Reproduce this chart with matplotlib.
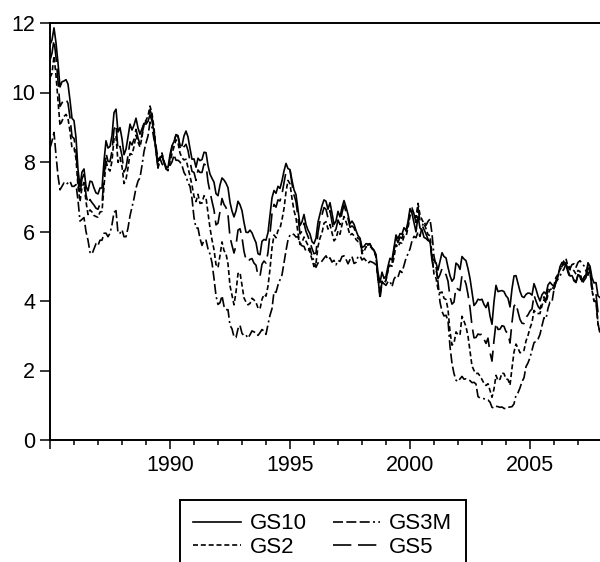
import matplotlib
matplotlib.use('Agg')
import matplotlib.pyplot as plt
import numpy as np

plt.rcParams['font.family'] = ['Liberation Sans', 'DejaVu Sans']

# monthly yields, 1985:01 - 2007:12 (percent)
start_year = 1985

gs10 = [11.38, 11.51, 11.86, 11.43, 10.85, 10.16, 10.31, 10.33, 10.37, 10.24, 9.78, 9.26,
        9.19, 8.70, 7.78, 7.30, 7.71, 7.80, 7.30, 7.17, 7.45, 7.43, 7.25, 7.11,
        7.08, 7.25, 7.25, 8.02, 8.61, 8.40, 8.45, 8.76, 9.42, 9.52, 8.86, 8.99,
        8.67, 8.21, 8.37, 8.72, 9.09, 8.92, 9.06, 9.26, 8.98, 8.80, 8.96, 9.11,
        9.09, 9.17, 9.36, 9.18, 8.86, 8.28, 8.02, 8.11, 8.19, 8.01, 7.87, 7.84,
        8.21, 8.47, 8.59, 8.79, 8.76, 8.48, 8.47, 8.75, 8.89, 8.72, 8.39, 8.08,
        8.09, 7.85, 8.11, 8.04, 8.07, 8.28, 8.27, 7.90, 7.65, 7.53, 7.42, 7.09,
        7.03, 7.34, 7.54, 7.48, 7.39, 7.26, 6.84, 6.59, 6.42, 6.59, 6.87, 6.77,
        6.60, 6.26, 5.98, 5.97, 6.04, 5.96, 5.81, 5.68, 5.36, 5.33, 5.72, 5.77,
        5.75, 5.97, 6.48, 6.97, 7.18, 7.10, 7.30, 7.24, 7.46, 7.74, 7.96, 7.81,
        7.78, 7.47, 7.20, 7.06, 6.63, 6.17, 6.28, 6.49, 6.20, 6.04, 5.93, 5.71,
        5.65, 5.81, 6.27, 6.51, 6.74, 6.91, 6.87, 6.64, 6.83, 6.53, 6.20, 6.30,
        6.58, 6.42, 6.69, 6.89, 6.71, 6.49, 6.22, 6.30, 6.21, 6.03, 5.88, 5.81,
        5.54, 5.57, 5.65, 5.64, 5.65, 5.50, 5.46, 5.34, 4.81, 4.53, 4.83, 4.65,
        4.72, 5.00, 5.23, 5.18, 5.54, 5.90, 5.79, 5.94, 5.92, 6.11, 6.03, 6.28,
        6.66, 6.52, 6.26, 5.99, 6.44, 6.10, 6.05, 5.83, 5.80, 5.74, 5.72, 5.24,
        5.16, 5.10, 4.89, 5.14, 5.39, 5.28, 5.24, 4.97, 4.73, 4.57, 4.65, 5.09,
        5.04, 4.91, 5.28, 5.21, 5.16, 4.93, 4.65, 4.26, 3.87, 3.94, 4.05, 4.03,
        4.05, 3.90, 3.81, 3.96, 3.57, 3.33, 3.98, 4.45, 4.27, 4.29, 4.30, 4.27,
        4.15, 4.08, 3.83, 4.35, 4.72, 4.73, 4.50, 4.28, 4.13, 4.10, 4.19, 4.23,
        4.22, 4.17, 4.50, 4.34, 4.14, 4.00, 4.18, 4.26, 4.20, 4.46, 4.54, 4.47,
        4.42, 4.57, 4.72, 4.99, 5.11, 5.11, 5.09, 4.88, 4.72, 4.73, 4.60, 4.56,
        4.76, 4.72, 4.56, 4.69, 4.75, 5.10, 5.00, 4.67, 4.52, 4.53, 4.15, 4.10]

gs5 = [10.93, 11.13, 11.52, 11.01, 10.34, 9.60, 9.70, 9.81, 9.81, 9.69, 9.28, 8.73,
       8.68, 8.34, 7.46, 7.05, 7.52, 7.64, 7.06, 6.80, 6.92, 6.83, 6.76, 6.67,
       6.64, 6.79, 6.79, 7.57, 8.26, 8.02, 8.01, 8.32, 8.94, 9.08, 8.35, 8.45,
       8.18, 7.71, 7.83, 8.19, 8.58, 8.49, 8.66, 8.94, 8.69, 8.51, 8.79, 9.09,
       9.15, 9.27, 9.51, 9.30, 8.91, 8.29, 7.83, 8.09, 8.17, 7.97, 7.81, 7.75,
       8.12, 8.42, 8.60, 8.77, 8.74, 8.43, 8.33, 8.44, 8.51, 8.33, 8.02, 7.73,
       7.70, 7.47, 7.77, 7.70, 7.70, 7.94, 7.91, 7.43, 7.14, 6.87, 6.62, 6.19,
       6.24, 6.58, 6.95, 6.78, 6.69, 6.48, 5.84, 5.60, 5.38, 5.60, 6.04, 6.08,
       5.83, 5.43, 5.19, 5.13, 5.20, 5.22, 5.09, 5.03, 4.73, 4.71, 5.06, 5.15,
       5.09, 5.40, 5.94, 6.52, 6.78, 6.70, 6.91, 6.88, 7.08, 7.40, 7.72, 7.78,
       7.76, 7.37, 7.05, 6.86, 6.41, 5.93, 6.01, 6.24, 6.00, 5.86, 5.69, 5.51,
       5.36, 5.38, 5.97, 6.30, 6.48, 6.69, 6.64, 6.39, 6.60, 6.27, 5.97, 6.07,
       6.33, 6.20, 6.54, 6.76, 6.57, 6.38, 6.12, 6.16, 6.11, 5.93, 5.80, 5.77,
       5.42, 5.49, 5.61, 5.61, 5.63, 5.52, 5.46, 5.27, 4.62, 4.18, 4.54, 4.45,
       4.60, 4.91, 5.14, 5.08, 5.44, 5.81, 5.68, 5.84, 5.80, 6.03, 5.97, 6.19,
       6.58, 6.68, 6.50, 6.26, 6.69, 6.30, 6.18, 6.06, 5.93, 5.78, 5.70, 5.17,
       4.86, 4.89, 4.64, 4.76, 4.93, 4.81, 4.76, 4.57, 4.12, 3.91, 3.97, 4.39,
       4.34, 4.30, 4.74, 4.65, 4.49, 4.19, 3.81, 3.29, 2.94, 2.95, 3.05, 3.03,
       3.05, 2.90, 2.78, 2.93, 2.52, 2.27, 2.87, 3.37, 3.18, 3.19, 3.29, 3.27,
       3.12, 3.07, 2.79, 3.39, 3.85, 3.93, 3.69, 3.47, 3.36, 3.35, 3.53, 3.60,
       3.71, 3.77, 4.17, 4.00, 3.85, 3.77, 3.98, 4.12, 4.01, 4.33, 4.45, 4.39,
       4.35, 4.57, 4.72, 4.90, 5.00, 5.07, 5.04, 4.82, 4.67, 4.69, 4.58, 4.53,
       4.75, 4.71, 4.48, 4.59, 4.67, 5.03, 4.88, 4.43, 4.20, 4.20, 3.67, 3.49]

gs2 = [10.43, 10.55, 11.05, 10.49, 9.75, 9.05, 9.18, 9.31, 9.37, 9.25, 8.88, 8.40,
       8.41, 8.10, 7.30, 6.86, 7.27, 7.41, 6.86, 6.49, 6.62, 6.56, 6.46, 6.43,
       6.41, 6.56, 6.58, 7.32, 8.02, 7.82, 7.74, 8.03, 8.67, 8.75, 7.99, 8.13,
       7.87, 7.38, 7.50, 7.83, 8.24, 8.22, 8.44, 8.77, 8.57, 8.43, 8.72, 9.11,
       9.20, 9.32, 9.61, 9.40, 8.98, 8.37, 7.83, 8.13, 8.26, 8.02, 7.80, 7.77,
       8.00, 8.24, 8.44, 8.64, 8.55, 8.26, 8.12, 8.06, 8.08, 7.84, 7.59, 7.33,
       7.01, 6.86, 7.07, 6.81, 6.82, 7.03, 6.97, 6.54, 6.10, 5.76, 5.48, 5.05,
       4.96, 5.31, 5.70, 5.45, 5.36, 5.07, 4.44, 4.16, 3.89, 4.26, 4.79, 4.82,
       4.45, 4.09, 3.97, 3.89, 3.93, 4.08, 4.03, 3.96, 3.80, 3.77, 4.05, 4.19,
       4.14, 4.43, 4.92, 5.53, 5.90, 5.82, 6.03, 6.09, 6.34, 6.66, 7.14, 7.47,
       7.37, 6.95, 6.60, 6.39, 5.95, 5.63, 5.69, 5.84, 5.72, 5.60, 5.39, 5.20,
       4.99, 5.09, 5.57, 5.81, 5.96, 6.24, 6.28, 6.07, 6.20, 5.96, 5.73, 5.80,
       6.01, 5.92, 6.20, 6.43, 6.28, 6.10, 5.89, 5.94, 5.88, 5.77, 5.71, 5.72,
       5.36, 5.42, 5.56, 5.56, 5.57, 5.52, 5.46, 5.27, 4.62, 4.18, 4.57, 4.48,
       4.61, 4.87, 5.03, 5.00, 5.25, 5.62, 5.55, 5.68, 5.66, 5.86, 5.86, 6.10,
       6.44, 6.61, 6.53, 6.40, 6.81, 6.48, 6.34, 6.23, 6.08, 5.91, 5.88, 5.35,
       4.76, 4.66, 4.34, 4.23, 4.26, 4.08, 4.04, 3.76, 3.12, 2.73, 2.78, 3.11,
       3.03, 3.02, 3.56, 3.42, 3.26, 2.99, 2.56, 2.13, 2.00, 1.91, 1.92, 1.84,
       1.74, 1.63, 1.57, 1.62, 1.42, 1.23, 1.47, 1.86, 1.71, 1.75, 1.93, 1.91,
       1.76, 1.74, 1.58, 2.07, 2.53, 2.76, 2.64, 2.51, 2.53, 2.58, 2.85, 3.01,
       3.22, 3.38, 3.73, 3.65, 3.64, 3.64, 3.87, 4.04, 3.95, 4.18, 4.33, 4.35,
       4.45, 4.68, 4.77, 4.90, 5.00, 5.16, 5.22, 4.97, 4.90, 4.92, 4.87, 4.77,
       4.88, 4.85, 4.57, 4.67, 4.77, 5.00, 4.82, 4.31, 4.01, 3.97, 3.34, 3.12]

gs3m = [8.40, 8.60, 8.85, 8.20, 7.60, 7.20, 7.30, 7.40, 7.35, 7.40, 7.45, 7.30,
        7.30, 7.35, 6.90, 6.30, 6.35, 6.40, 6.00, 5.75, 5.40, 5.35, 5.50, 5.65,
        5.60, 5.75, 5.75, 5.95, 5.95, 5.85, 5.95, 6.20, 6.55, 6.60, 5.95, 5.95,
        6.05, 5.85, 5.85, 6.10, 6.45, 6.70, 6.95, 7.25, 7.45, 7.55, 7.90, 8.30,
        8.55, 8.75, 9.15, 9.00, 8.65, 8.45, 8.10, 8.10, 7.95, 7.85, 7.85, 7.85,
        7.90, 8.00, 8.20, 8.05, 8.05, 8.00, 7.90, 7.70, 7.60, 7.40, 7.30, 6.95,
        6.40, 6.10, 6.10, 5.80, 5.60, 5.75, 5.75, 5.50, 5.35, 5.10, 4.65, 4.15,
        3.90, 3.95, 4.15, 3.85, 3.75, 3.75, 3.30, 3.20, 2.97, 2.95, 3.20, 3.30,
        3.07, 3.00, 3.02, 2.93, 3.03, 3.14, 3.11, 3.09, 3.01, 3.09, 3.18, 3.13,
        3.04, 3.33, 3.59, 3.78, 4.27, 4.25, 4.46, 4.61, 4.75, 5.10, 5.45, 5.76,
        5.90, 5.94, 5.91, 5.84, 5.85, 5.64, 5.59, 5.57, 5.43, 5.44, 5.52, 5.29,
        5.15, 4.97, 5.10, 5.09, 5.15, 5.23, 5.30, 5.19, 5.24, 5.12, 5.17, 5.04,
        5.17, 5.14, 5.28, 5.30, 5.20, 5.07, 5.19, 5.28, 5.08, 5.11, 5.28, 5.30,
        5.18, 5.23, 5.16, 5.08, 5.14, 5.12, 5.09, 5.04, 4.74, 4.07, 4.53, 4.50,
        4.45, 4.56, 4.57, 4.41, 4.63, 4.72, 4.69, 4.87, 4.82, 5.02, 5.23, 5.36,
        5.50, 5.73, 5.86, 5.82, 5.99, 5.86, 6.14, 6.28, 6.18, 6.29, 6.36, 5.94,
        5.29, 5.01, 4.54, 3.97, 3.70, 3.57, 3.59, 3.44, 2.69, 2.20, 1.91, 1.72,
        1.68, 1.76, 1.83, 1.75, 1.76, 1.73, 1.71, 1.65, 1.66, 1.61, 1.25, 1.21,
        1.19, 1.19, 1.15, 1.15, 1.09, 0.94, 0.92, 0.97, 0.96, 0.94, 0.95, 0.91,
        0.90, 0.94, 0.95, 0.96, 1.04, 1.29, 1.36, 1.50, 1.68, 1.79, 2.11, 2.22,
        2.37, 2.58, 2.80, 2.84, 2.90, 3.04, 3.29, 3.52, 3.49, 3.79, 3.97, 3.97,
        4.34, 4.54, 4.63, 4.72, 4.84, 4.92, 5.08, 5.09, 4.93, 5.05, 5.07, 4.97,
        5.11, 5.16, 5.08, 5.01, 4.87, 4.74, 4.96, 4.32, 3.99, 4.00, 3.35, 3.07]

year_ticks = [1985, 1990, 1995, 2000, 2005]
year_labels = ['', '1990', '1995', '2000', '2005']

dates = start_year + np.arange(len(gs10)) / 12.0

fig = plt.figure(figsize=(6.0, 5.62), dpi=100)
ax = fig.add_axes([50 / 600, 122 / 562, 550 / 600, 417 / 562])

l10, = ax.plot(dates, gs10, color='black', lw=1.2, linestyle='-')
l3m, = ax.plot(dates, gs3m, color='black', lw=1.2, dashes=(6, 2, 6, 2, 6, 2, 1.2, 2))
l2, = ax.plot(dates, gs2, color='black', lw=1.2, dashes=(3, 1.7))
l5, = ax.plot(dates, gs5, color='black', lw=1.2, dashes=(11, 4))

ax.set_xlim(dates[0], dates[-1])
ax.set_ylim(0, 12)
ax.set_yticks(np.arange(0, 13, 2))
ax.set_xticks(year_ticks)
ax.set_xticklabels(year_labels)
ax.set_xticks(np.arange(1985, 2008), minor=True)

ax.tick_params(axis='y', direction='out', length=7.2, width=1.1, pad=3.6, labelsize=15.5)
ax.tick_params(axis='x', which='major', direction='out', length=6.5, width=1.1, pad=4.5, labelsize=15.5)
ax.tick_params(axis='x', which='minor', direction='out', length=3.6, width=1.1)

ax.spines['right'].set_visible(False)
for s in ['left', 'top', 'bottom']:
    ax.spines[s].set_linewidth(1.4)

leg = fig.legend([l10, l2, l3m, l5], ['GS10', 'GS2', 'GS3M', 'GS5'], ncol=2,
                 loc='upper left', bbox_to_anchor=(180 / 600, 1 - 500 / 562),
                 frameon=True, fancybox=False, edgecolor='black', framealpha=1,
                 fontsize=16, handlelength=2.15, handletextpad=0.4,
                 columnspacing=1.15, borderpad=0.6, labelspacing=0.1, borderaxespad=0)
leg.get_frame().set_linewidth(1.4)

fig.savefig('out.png', dpi=100)
